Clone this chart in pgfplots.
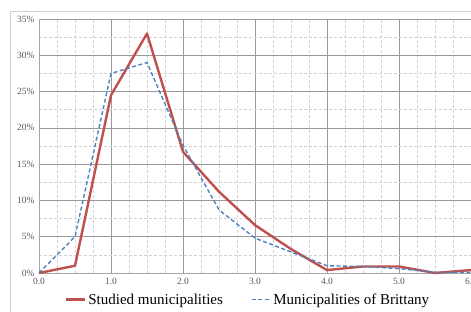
\documentclass[border=0pt]{standalone}
\usepackage{pgfplots}
\pgfplotsset{compat=1.18}
\usepackage{fontspec}
\setmainfont{Liberation Serif}
\definecolor{redl}{HTML}{C0504D}
\definecolor{bluel}{HTML}{4F81BD}
\definecolor{ticklab}{HTML}{595959}
\begin{document}
\begin{tikzpicture}[x=1pt,y=1pt]
\path[use as bounding box] (0,0) rectangle (471,312);
\draw[gray!35, line width=1.2pt] (10.5,-10) rectangle (500,300.5);
\begin{axis}[
  at={(39pt,39pt)}, anchor=south west,
  scale only axis, width=432pt, height=254pt,
  xmin=0, xmax=6, ymin=0, ymax=35,
  xtick={0,1,...,6}, ytick={0,5,...,35},
  minor x tick num=3, minor y tick num=1,
  major tick length=0pt, minor tick length=0pt,
  grid=both,
  major grid style={gray!80, line width=0.6pt},
  minor grid style={gray!35, dash pattern=on 3pt off 2pt, line width=0.6pt},
  axis line style={gray!70, line width=0.8pt},
  axis x line*=bottom, axis y line*=left,
  /pgf/number format/assume math mode=true,
  xticklabel style={/pgf/number format/fixed, /pgf/number format/fixed zerofill, /pgf/number format/precision=1, yshift=-2pt},
  yticklabel={\pgfmathprintnumber{\tick}\%},
  yticklabel style={xshift=-1pt},
  tick label style={font=\fontsize{9.5}{10}\selectfont, text=ticklab},
  legend columns=2,
  legend style={draw=none, fill=none, at={(0.484,-0.105)}, anchor=center,
    font=\fontsize{15}{17}\selectfont, inner sep=0pt,
    /tikz/every even column/.append style={column sep=26pt}},
  legend image code/.code={\draw[#1] (0pt,0pt) -- (19pt,0pt);},
  clip=false,
]
\addplot[redl, line width=2.4pt, line join=round] coordinates {
(0,0) (0.5,1.0) (1.0,24.5) (1.5,33.0) (2.0,16.7) (2.5,11.2) (3.0,6.6) (3.5,3.3) (4.0,0.4) (4.5,0.9) (5.0,0.9) (5.5,0.0) (6.0,0.4)};
\addlegendentry{Studied municipalities}
\addplot[bluel, line width=1.4pt, dash pattern=on 4pt off 2.5pt] coordinates {
(0,0) (0.5,5.0) (1.0,27.5) (1.5,29.0) (2.0,17.6) (2.5,8.7) (3.0,4.8) (3.5,2.9) (4.0,1.0) (4.5,0.9) (5.0,0.6) (5.5,0.1) (6.0,0.1)};
\addlegendentry{Municipalities of Brittany}
\end{axis}
\end{tikzpicture}
\end{document}
